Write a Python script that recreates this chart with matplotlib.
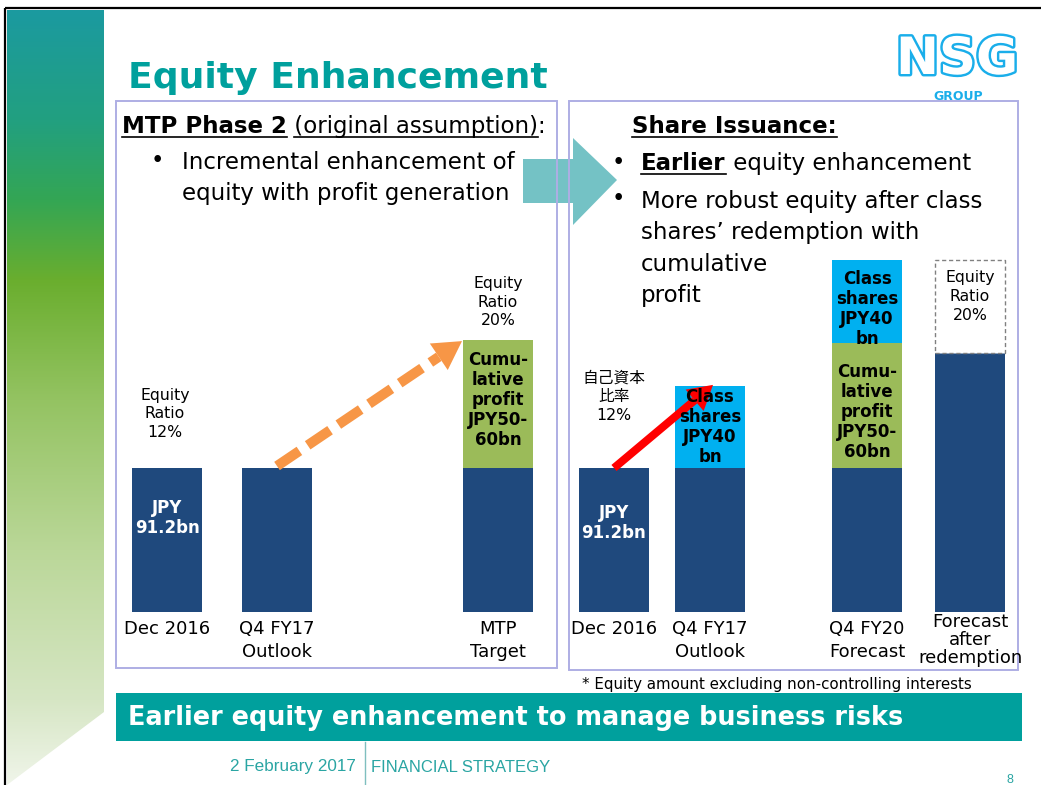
import matplotlib.pyplot as plt
from matplotlib.patches import Rectangle, Polygon
from matplotlib.transforms import ScaledTranslation
import matplotlib.patheffects as pe
import numpy as np

W, H = 1041, 785
BASE_PX = 612            # pixel row of the bar baseline
PX_PER_BN = 144 / 91.2   # drawn scale of the slide's schematic bars

# --- data (JPY bn, schematic heights as drawn on the slide) ---
left_cats = ["Dec 2016", "Q4 FY17\nOutlook", "MTP\nTarget"]
left_equity = [91.2, 91.2, 91.2]
left_profit = [0, 0, 81]

right_cats = ["Dec 2016", "Q4 FY17\nOutlook", "Q4 FY20\nForecast", "Forecast\nafter\nredemption"]
right_equity = [91.2, 91.2, 91.2, 164]
right_profit = [0, 0, 79, 0]
right_class = [0, 52, 53, 0]
right_gap = [0, 0, 0, 59]      # dashed "equity ratio 20%" headroom

equity_label = "JPY\n91.2bn"
profit_label = "Cumu-\nlative\nprofit\nJPY50-\n60bn"
class_label = "Class\nshares\nJPY40\nbn"
ratio_labels = ["Equity\nRatio\n12%", "Equity\nRatio\n20%", "自己資本\n比率\n12%", "Equity\nRatio\n20%"]

# --- layout ---
left_x = [167, 277, 498]
right_x = [614, 710, 867, 970]
BAR_W = 70

NAVY = "#1F497D"
GREEN = "#9BBB59"
CYAN = "#00B0F0"
TEAL = "#00A09D"
LOGO = "#1AAEEA"
BORDER = "#AEAEE4"

plt.rcParams['font.family'] = ['DejaVu Sans', 'Noto Sans CJK JP']

fig = plt.figure(figsize=(W / 100, H / 100), dpi=100)


def pixel_axes(z):
    a = fig.add_axes([0, 0, 1, 1], zorder=z)
    a.set_xlim(0, W)
    a.set_ylim(H, 0)
    a.axis('off')
    a.patch.set_alpha(0)
    return a


def py(v):
    # bn value -> pixel row
    return BASE_PX - v * PX_PER_BN


bg = pixel_axes(0)

# --- left gradient sidebar ---
stops_y = [10, 120, 200, 280, 400, 550, 700, 785]
stops_c = [(27, 154, 160), (34, 160, 128), (52, 166, 84), (106, 174, 46),
           (148, 195, 98), (186, 215, 152), (214, 230, 196), (240, 245, 234)]
yy = np.arange(10, 786)
grad = np.stack([np.interp(yy, stops_y, [c[i] for c in stops_c]) for i in range(3)], axis=-1) / 255
im = bg.imshow(grad[:, None, :], extent=[7, 104, 785, 10], aspect='auto', zorder=1)
clip = Polygon([(7, 10), (104, 10), (104, 712), (7, 785)], closed=True,
               facecolor='none', edgecolor='none', transform=bg.transData)
bg.add_patch(clip)
im.set_clip_path(clip)
bg.set_xlim(0, W)
bg.set_ylim(H, 0)

# slide frame
bg.plot([5, W], [8, 8], color='black', lw=1.6, solid_capstyle='butt')
bg.plot([5, 5], [8, H], color='black', lw=1.6, solid_capstyle='butt')

# title
bg.text(128, 88, "Equity Enhancement", fontsize=26, fontweight='bold', color=TEAL,
        ha='left', va='baseline')

# logo
bg.text(957, 60, "NSG", fontsize=37, fontweight='heavy', color='white', ha='center',
        va='center', path_effects=[pe.Stroke(linewidth=3.5, foreground=LOGO), pe.Normal()])
bg.text(958, 97, "GROUP", fontsize=9, fontweight='bold', color=LOGO, ha='center', va='center')

# big arrow between panels
bg.add_patch(Polygon([(523, 159), (573, 159), (573, 138), (617, 180), (573, 225),
                      (573, 203), (523, 203)], closed=True, facecolor='#74C2C5',
                     edgecolor='none', zorder=2))

# panel frames
bg.add_patch(Rectangle((116, 101), 441, 567, facecolor='none', edgecolor=BORDER, lw=1.4, zorder=3))
bg.add_patch(Rectangle((569, 101), 449, 569, facecolor='none', edgecolor=BORDER, lw=1.4, zorder=3))

renderer = fig.canvas.get_renderer()


def text_width(txt, size, wt):
    t = bg.text(0, 0, txt, fontsize=size, fontweight=wt)
    w = t.get_window_extent(renderer=renderer).width
    t.remove()
    return w


def runs(x, y, parts, size=16.5):
    # consecutive text pieces on one baseline, optionally underlined
    for txt, wt, ul in parts:
        bg.text(x, y, txt, fontsize=size, fontweight=wt, ha='left', va='baseline', zorder=4)
        w = text_width(txt, size, wt)
        if ul:
            lead = text_width("x" + txt[:len(txt) - len(txt.lstrip())], size, wt) - text_width("x", size, wt)
            bg.plot([x + lead, x + w], [y + 4, y + 4], color='black', lw=1.2, zorder=4)
        x += w


runs(122, 133, [("MTP Phase 2", 'bold', True), (" (original assumption)", 'normal', True),
                (":", 'normal', False)])
bg.text(157, 161, "•", fontsize=16.5, ha='center', va='center')
runs(182, 169, [("Incremental enhancement of", 'normal', False)])
runs(182, 200, [("equity with profit generation", 'normal', False)])

runs(632, 133, [("Share Issuance:", 'bold', True)])
bg.text(618, 162, "•", fontsize=16.5, ha='center', va='center')
runs(641, 170, [("Earlier", 'bold', True), (" equity enhancement", 'normal', False)])
bg.text(618, 199, "•", fontsize=16.5, ha='center', va='center')
for i, line in enumerate(["More robust equity after class", "shares\u2019 redemption with",
                          "cumulative", "profit"]):
    runs(641, 208 + i * 31.3, [(line, 'normal', False)])

# footnote, footer band, bottom line
bg.text(582, 684, "* Equity amount excluding non-controlling interests", fontsize=10.8,
        ha='left', va='center')
bg.add_patch(Rectangle((116, 693), 906, 48, facecolor=TEAL, edgecolor='none'))
bg.text(128, 718, "Earlier equity enhancement to manage business risks", fontsize=18.4,
        fontweight='bold', color='white', ha='left', va='center')
bg.text(356, 766, "2 February 2017", family='Liberation Sans', fontsize=12.3, color='#2AA5A3',
        ha='right', va='center')
bg.plot([365, 365], [742, 785], color='#7FBFBF', lw=1)
bg.text(371, 767, "FINANCIAL STRATEGY", family='Liberation Sans', fontsize=12, color='#2AA5A3',
        ha='left', va='center')
bg.text(1010, 780, "8", family='Liberation Sans', fontsize=9, color='#2AA5A3',
        ha='center', va='center')

# --- bars ---
ax = fig.add_axes([0, (H - BASE_PX) / H, 1, (BASE_PX - 200) / H], zorder=1)
ax.set_xlim(0, W)
ax.set_ylim(0, (BASE_PX - 200) / PX_PER_BN)
ax.patch.set_alpha(0)
for s in ax.spines.values():
    s.set_visible(False)
ax.set_yticks([])

ax.bar(left_x, left_equity, width=BAR_W, color=NAVY, lw=0)
ax.bar(left_x, left_profit, bottom=left_equity, width=BAR_W, color=GREEN, lw=0)

r_profit_base = right_equity
r_class_base = [e + p for e, p in zip(right_equity, right_profit)]
r_gap_base = [b + c for b, c in zip(r_class_base, right_class)]
ax.bar(right_x, right_equity, width=BAR_W, color=NAVY, lw=0)
ax.bar(right_x, right_profit, bottom=r_profit_base, width=BAR_W, color=GREEN, lw=0)
ax.bar(right_x, right_class, bottom=r_class_base, width=BAR_W, color=CYAN, lw=0)
gx = [x for x, g in zip(right_x, right_gap) if g > 0]
gb = [b for b, g in zip(r_gap_base, right_gap) if g > 0]
gh = [g for g in right_gap if g > 0]
ax.bar(gx, gh, bottom=gb, width=BAR_W, facecolor='white', edgecolor='#808080',
       lw=1, ls=(0, (3, 2)))

ax.set_xticks(left_x + right_x, left_cats + right_cats, fontsize=13, linespacing=1.3)
ax.tick_params(axis='x', length=0, pad=6)
labels = ax.get_xticklabels()
labels[-1].set_linespacing(0.98)
labels[-1].set_transform(labels[-1].get_transform() + ScaledTranslation(0, 5 / 72, fig.dpi_scale_trans))

# --- overlay: arrows and labels ---
ov = pixel_axes(2)


def arrow(p0, p1, color, lw_px, head_len, head_half, dashed=False):
    p0 = np.array(p0, float)
    p1 = np.array(p1, float)
    d = p1 - p0
    u = d / np.hypot(*d)
    n = np.array([-u[1], u[0]])
    base = p1 - head_len * u
    ls = (0, (2.7, 1.0)) if dashed else '-'
    ov.plot([p0[0], base[0]], [p0[1], base[1]], color=color, lw=lw_px * 0.72, ls=ls,
            solid_capstyle='butt', dash_capstyle='butt', zorder=3)
    ov.add_patch(Polygon([p1, base + head_half * n, base - head_half * n], closed=True,
                         facecolor=color, edgecolor='none', zorder=3))


arrow((left_x[1], py(left_equity[1]) - 2), (left_x[2] - 36, py(left_equity[2] + left_profit[2]) + 1),
      '#F79646', 10, 28, 16, dashed=True)
arrow((right_x[0], py(right_equity[0])), (right_x[1] + 3, py(r_class_base[1] + right_class[1]) - 1),
      '#FF0000', 8, 24, 14)

bold = dict(fontsize=12, fontweight='bold', ha='center', va='center', linespacing=1.14, zorder=5)
ov.text(left_x[0], py(left_equity[0] * 0.65), equity_label, color='white', **bold)
ov.text(right_x[0], py(right_equity[0] * 0.62), equity_label, color='white', **bold)
ov.text(left_x[2], py(left_equity[2] + left_profit[2] / 2) - 4, profit_label, color='black', **bold)
ov.text(right_x[2], py(r_profit_base[2] + right_profit[2] / 2) + 6, profit_label, color='black', **bold)
ov.text(right_x[1], py(r_class_base[1] + right_class[1] / 2), class_label, color='black', **bold)
ov.text(right_x[2], py(r_class_base[2] + right_class[2] / 2) + 8, class_label, color='black', **bold)

small = dict(fontsize=11.3, ha='center', va='center', linespacing=1.3, zorder=5)
ov.text(left_x[0] - 2, py(left_equity[0]) - 54, ratio_labels[0], **small)
ov.text(left_x[2], py(left_equity[2] + left_profit[2]) - 38, ratio_labels[1], **small)
ov.text(right_x[0], py(right_equity[0]) - 71, ratio_labels[2], **small)
ov.text(right_x[3], py(r_gap_base[3] + right_gap[3] / 2) - 10, ratio_labels[3], **small)

fig.savefig("out.png", dpi=100)
